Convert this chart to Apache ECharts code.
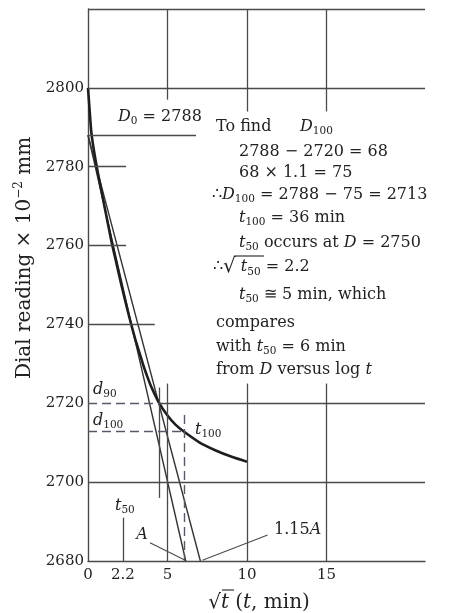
<!DOCTYPE html>
<html><head><meta charset="utf-8">
<script src="https://cdn.jsdelivr.net/npm/echarts@6/dist/echarts.min.js"></script>
<style>html,body{margin:0;padding:0;background:#fff}#c{width:452px;height:613px}</style>
</head><body><div id="c"></div>
<script>
// ---- data ----
const xTickLabels = [0, 2.2, 5, 10, 15];
const yTickLabels = [2680, 2700, 2720, 2740, 2760, 2780, 2800];
const curveSqrtT = [0, 0.1, 0.23, 0.55, 1, 1.48, 1.8, 2.1, 2.5, 2.72, 3, 3.3, 3.5, 3.8, 4, 4.47, 5, 5.5, 6.07, 7, 8, 9, 10];
const curveDial  = [2800, 2794.5, 2788, 2780, 2770.7, 2761, 2755.3, 2750, 2743.4, 2740, 2735.9, 2732, 2729.4, 2726, 2724, 2720.1, 2716.9, 2714.6, 2712.7, 2710.1, 2708.1, 2706.5, 2705.2];
const lineA      = [[0, 2788], [6.15, 2680]];
const line115A   = [[0, 2788], [7.07, 2680]];
const gridSolid = [
  [[0, 2820], [21.2, 2820]],
  [[0, 2800], [21.2, 2800]],
  [[0, 2788], [6.8, 2788]],
  [[0, 2780], [2.4, 2780]],
  [[0, 2760], [2.4, 2760]],
  [[0, 2740], [4.2, 2740]],
  [[4.47, 2720], [21.2, 2720]],
  [[0, 2700], [21.2, 2700]],
  [[5, 2820], [5, 2797]],
  [[10, 2820], [10, 2794]],
  [[15, 2820], [15, 2794]],
  [[5, 2725], [5, 2680]],
  [[10, 2725], [10, 2680]],
  [[15, 2725], [15, 2680]],
  [[4.47, 2724], [4.47, 2696]],
  [[2.2, 2691], [2.2, 2680]]
];
const gridDashed = [
  [[0, 2720], [4.47, 2720]],
  [[0, 2713], [6.0, 2713]],
  [[6.07, 2717], [6.07, 2680]]
];
const pointers = [
  [[3.9, 2684.6], [6.05, 2680.3]],
  [[11.3, 2686.6], [7.2, 2680.2]]
];

const FF = 'DejaVu Serif';
const INK = '#222222';
const LINE = '#4a4a4a';

function seg(list, style) {
  return list.map(s => [
    { coord: s[0], lineStyle: style },
    { coord: s[1] }
  ]);
}

const rich = {
  n: { fontFamily: FF, fontSize: 16, fill: INK, lineHeight: 20 },
  i: { fontFamily: FF, fontStyle: 'italic', fontSize: 16, fill: INK, lineHeight: 20 },
  s: { fontFamily: FF, fontSize: 10.5, fill: INK, lineHeight: 10, verticalAlign: 'bottom' },
  rt: { fontFamily: FF, fontSize: 20, fill: INK, lineHeight: 22 },
  sup: { fontFamily: FF, fontSize: 12, fill: INK, lineHeight: 12, verticalAlign: 'top' },
  bn: { fontFamily: FF, fontSize: 20, fill: INK, lineHeight: 24 },
  bi: { fontFamily: FF, fontStyle: 'italic', fontSize: 20, fill: INK, lineHeight: 24 }
};

function txt(x, y, text, align, rot) {
  return {
    type: 'text', x: x, y: y, rotation: rot || 0, silent: true,
    style: { text: text, rich: rich, align: align || 'left', verticalAlign: 'middle' }
  };
}

const chart = echarts.init(document.getElementById('c'), null, { renderer: 'canvas' });
chart.setOption({
  animation: false,
  backgroundColor: '#ffffff',
  grid: { left: 88, right: 27, top: 9, bottom: 52 },
  xAxis: {
    type: 'value', min: 0, max: 21.2,
    axisLine: { show: true, lineStyle: { color: LINE, width: 1.4 } },
    axisTick: { show: false },
    splitLine: { show: false },
    axisLabel: { customValues: xTickLabels, fontFamily: FF, fontSize: 15, color: INK, margin: 7, formatter: v => String(v) }
  },
  yAxis: {
    type: 'value', min: 2680, max: 2820, interval: 20,
    axisLine: { show: true, lineStyle: { color: LINE, width: 1.4 } },
    axisTick: { show: false },
    splitLine: { show: false },
    axisLabel: { customValues: yTickLabels, fontFamily: FF, fontSize: 15, color: INK, margin: 4, formatter: v => String(v) }
  },
  series: [
    {
      type: 'line', data: [], silent: true,
      markLine: {
        silent: true, symbol: ['none', 'none'], label: { show: false }, animation: false,
        data: [].concat(
          seg(gridSolid, { color: LINE, width: 1.3, type: 'solid' }),
          seg(gridDashed, { color: '#555a66', width: 1.4, type: [9, 5] }),
          seg(pointers, { color: LINE, width: 1.1, type: 'solid' })
        )
      }
    },
    { type: 'line', data: lineA, symbol: 'none', silent: true, lineStyle: { color: '#333', width: 1.4 } },
    { type: 'line', data: line115A, symbol: 'none', silent: true, lineStyle: { color: '#333', width: 1.4 } },
    {
      type: 'line', symbol: 'none', silent: true, smooth: 0.3,
      data: curveSqrtT.map((x, k) => [x, curveDial[k]]),
      lineStyle: { color: '#1e1e1e', width: 2.6 }
    }
  ],
  graphic: [
    txt(25, 258, '{bn|Dial reading × 10}{sup|−2}{bn| mm}', 'center', Math.PI / 2),
    txt(259, 603, '{bn|√}{bi|t}{bn| (}{bi|t}{bn|, min)}', 'center'),
    txt(118, 117, '{i|D}{s|0}{n| = 2788}'),
    txt(216, 127, '{n|To find}'),
    txt(300, 127, '{i|D}{s|100}'),
    txt(239, 152, '{n|2788 − 2720 = 68}'),
    txt(239, 173, '{n|68 × 1.1 = 75}'),
    txt(212, 195, '{n|∴}{i|D}{s|100}{n| = 2788 − 75 = 2713}'),
    txt(239, 218, '{i|t}{s|100}{n| = 36 min}'),
    txt(239, 243, '{i|t}{s|50}{n| occurs at }{i|D}{n| = 2750}'),
    txt(213, 267, '{n|∴}{rt|√}{i| t}{s|50}{n| = 2.2}'),
    txt(239, 295, '{i|t}{s|50}{n| ≅ 5 min, which}'),
    txt(216, 323, '{n|compares}'),
    txt(216, 347, '{n|with }{i|t}{s|50}{n| = 6 min}'),
    txt(216, 370, '{n|from }{i|D}{n| versus log }{i|t}'),
    txt(93, 390, '{i|d}{s|90}'),
    txt(93, 421, '{i|d}{s|100}'),
    txt(195, 430, '{i|t}{s|100}'),
    txt(115, 506, '{i|t}{s|50}'),
    txt(142, 535, '{i|A}', 'center'),
    txt(274, 530, '{n|1.15}{i|A}'),
    { type: 'line', silent: true, shape: { x1: 234, y1: 256, x2: 264, y2: 256 }, style: { stroke: INK, lineWidth: 1.1 } },
    { type: 'line', silent: true, shape: { x1: 222, y1: 590, x2: 234, y2: 590 }, style: { stroke: INK, lineWidth: 1.1 } }
  ]
});
</script></body></html>
